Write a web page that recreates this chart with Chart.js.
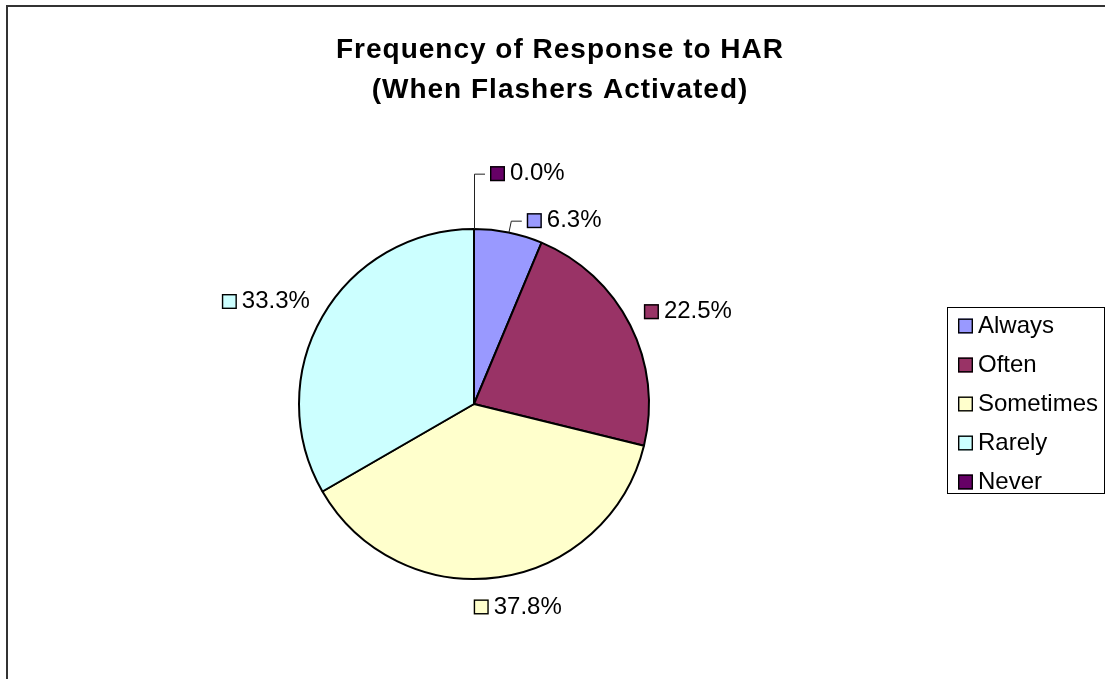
<!DOCTYPE html>
<html>
<head>
<meta charset="utf-8">
<script src="https://cdn.jsdelivr.net/npm/chart.js@4/dist/chart.umd.min.js"></script>
<style>
  html, body { margin: 0; padding: 0; background: #fff; }
  canvas { display: block; }
</style>
</head>
<body>
<canvas id="chart" width="1105" height="679"></canvas>
<script>
const categories = ["Always", "Often", "Sometimes", "Rarely", "Never"];
const shares = [6.3, 22.5, 37.8, 33.3, 0.0];
const titleLines = ["Frequency of Response to HAR", "(When Flashers Activated)"];

const sliceColors = ["#9999FF", "#993366", "#FFFFCC", "#CCFFFF", "#660066"];
const FONT = '"Liberation Sans", Arial, sans-serif';

function drawMarker(ctx, left, cy, color) {
    ctx.fillStyle = color;
    ctx.fillRect(left, cy - 7.5, 15, 15);
    ctx.strokeStyle = "#000";
    ctx.lineWidth = 1.4;
    ctx.strokeRect(left + 0.7, cy - 7.5 + 0.7, 13.6, 13.6);
}

function drawLabel(ctx, left, cy, text, color) {
    drawMarker(ctx, left, cy, color);
    ctx.fillStyle = "#000";
    ctx.textAlign = "left";
    ctx.textBaseline = "middle";
    ctx.fillText(text, left + 20, cy);
}

function overlaps(a, b) {
    return a.left < b.right && b.left < a.right && a.top < b.bottom && b.top < a.bottom;
}

const decorPlugin = {
    id: "decor",
    afterDatasetsDraw(chart) {
        const ctx = chart.ctx;
        const meta = chart.getDatasetMeta(0);
        const total = shares.reduce((a, b) => a + b, 0);
        ctx.save();
        ctx.font = "24px " + FONT;
        const h = 24;
        const placed = [];
        meta.data.forEach((arc, i) => {
            const { x, y, startAngle, endAngle, outerRadius } =
                arc.getProps(["x", "y", "startAngle", "endAngle", "outerRadius"], true);
            const mid = (startAngle + endAngle) / 2;
            const dx = Math.cos(mid), dy = Math.sin(mid);
            const text = shares[i].toFixed(1) + "%";
            const w = 20 + ctx.measureText(text).width;

            if (shares[i] / total < 0.1) {
                // small slice: elbow leader line
                const ex = x + dx * outerRadius, ey = y + dy * outerRadius;
                const bx = x + dx * (outerRadius + 12);
                let by = y + dy * (outerRadius + 12);
                let box = { left: bx + 16, right: bx + 16 + w, top: by - h / 2, bottom: by + h / 2 };
                let hit = placed.find(p => overlaps(p, box));
                while (hit) {
                    by = hit.top - 23 - h / 2;
                    box = { left: bx + 16, right: bx + 16 + w, top: by - h / 2, bottom: by + h / 2 };
                    hit = placed.find(p => overlaps(p, box));
                }
                ctx.strokeStyle = "#222";
                ctx.lineWidth = 1;
                ctx.beginPath();
                ctx.moveTo(ex + 0.5, ey);
                ctx.lineTo(bx + 0.5, by + 0.5);
                ctx.lineTo(bx + 11, by + 0.5);
                ctx.stroke();
                drawLabel(ctx, bx + 16, by, text, sliceColors[i]);
                placed.push(box);
            } else {
                const r = outerRadius + 18;
                const cx = x + dx * r + Math.sign(dx) * Math.sqrt(Math.abs(dx)) * w / 2;
                const cy = y + dy * (r + h / 2);
                drawLabel(ctx, cx - w / 2, cy, text, sliceColors[i]);
                placed.push({ left: cx - w / 2, right: cx + w / 2, top: cy - h / 2, bottom: cy + h / 2 });
            }
        });
        ctx.restore();
    },
    afterDraw(chart) {
        const ctx = chart.ctx;
        ctx.save();

        // outer frame
        ctx.strokeStyle = "#333";
        ctx.lineWidth = 2;
        ctx.strokeRect(7, 6, 1300, 900);

        // title
        ctx.fillStyle = "#000";
        ctx.font = "bold 28px " + FONT;
        ctx.textAlign = "center";
        ctx.textBaseline = "alphabetic";
        if ("letterSpacing" in ctx) ctx.letterSpacing = "1px";
        titleLines.forEach((line, i) => ctx.fillText(line, 560, 58 + i * 40));
        if ("letterSpacing" in ctx) ctx.letterSpacing = "0px";

        // legend
        ctx.strokeStyle = "#000";
        ctx.lineWidth = 1;
        ctx.strokeRect(947.5, 307.5, 157, 186);
        ctx.font = "24px " + FONT;
        categories.forEach((name, i) => {
            const cy = 326 + i * 39;
            drawMarker(ctx, 958, cy, sliceColors[i]);
            ctx.fillStyle = "#000";
            ctx.textAlign = "left";
            ctx.textBaseline = "middle";
            ctx.fillText(name, 978, cy);
        });
        ctx.restore();
    }
};

new Chart(document.getElementById("chart").getContext("2d"), {
    type: "pie",
    data: {
        labels: categories,
        datasets: [{
            data: shares,
            backgroundColor: sliceColors,
            borderColor: "#000",
            borderWidth: 2,
            hoverOffset: 0
        }]
    },
    options: {
        responsive: false,
        animation: false,
        radius: 175,
        layout: { padding: { left: 299, top: 229, right: 456, bottom: 100 } },
        plugins: {
            legend: { display: false },
            title: { display: false },
            tooltip: { enabled: false }
        }
    },
    plugins: [decorPlugin]
});
</script>
</body>
</html>
